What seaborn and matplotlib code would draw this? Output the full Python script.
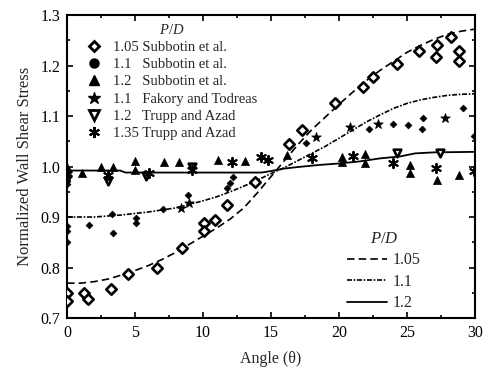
import numpy as np
import pandas as pd
import matplotlib
matplotlib.use("Agg")
import matplotlib.pyplot as plt
from matplotlib.lines import Line2D
import seaborn as sns

# ---------------- data ----------------
# model curves (P/D)
curve_theta = [0, 1, 2, 3, 4, 5, 6, 7, 8, 9, 10, 11, 12, 13, 14, 15, 16, 17, 18, 19,
               20, 21, 22, 23, 24, 25, 26, 27, 28, 29, 30]
curve_105 = [0.769, 0.769, 0.772, 0.777, 0.785, 0.794, 0.804, 0.816, 0.830, 0.846,
             0.862, 0.878, 0.896, 0.918, 0.948, 0.980, 1.012, 1.044, 1.073, 1.098,
             1.123, 1.147, 1.170, 1.190, 1.208, 1.226, 1.240, 1.252, 1.262, 1.268, 1.272]
curve_110 = [0.900, 0.900, 0.900, 0.902, 0.904, 0.907, 0.910, 0.914, 0.918, 0.925,
             0.932, 0.940, 0.950, 0.961, 0.973, 0.986, 0.998, 1.012, 1.026, 1.040,
             1.056, 1.072, 1.088, 1.102, 1.115, 1.125, 1.132, 1.137, 1.141, 1.143, 1.144]
curve_120_theta = [0, 3.9, 4.3, 14.3, 15.0, 16.0, 17.0, 18.5, 20.0, 21.5, 23.0, 24.5,
                   25.6, 27.0, 30.0]
curve_120 = [0.992, 0.992, 0.988, 0.988, 0.991, 0.996, 0.999, 1.003, 1.006, 1.010,
             1.016, 1.020, 1.026, 1.028, 1.029]

# experimental data
sub105_theta = [0, 0, 1.25, 1.55, 3.2, 4.5, 6.6, 8.45, 10.1, 10.1, 10.9, 11.8, 13.8,
                16.3, 17.3, 19.7, 21.8, 22.5, 24.3, 25.9, 27.1, 27.2, 28.2, 28.8, 28.8]
sub105_val = [0.749, 0.733, 0.749, 0.737, 0.757, 0.788, 0.800, 0.838, 0.889, 0.873,
              0.895, 0.923, 0.969, 1.044, 1.072, 1.125, 1.157, 1.177, 1.202, 1.228,
              1.216, 1.240, 1.256, 1.228, 1.208]

sub110_theta = [0, 0, 0, 0, 0, 1.6, 3.3, 3.4, 5.1, 5.1, 7.05, 8.9, 11.8, 12.0, 12.2,
                17.6, 22.2, 24.0, 25.1, 26.1, 26.2, 29.1, 29.9]
sub110_val = [0.965, 0.972, 0.883, 0.873, 0.850, 0.885, 0.905, 0.869, 0.899, 0.889,
              0.916, 0.944, 0.958, 0.968, 0.980, 1.046, 1.075, 1.085, 1.083, 1.075,
              1.097, 1.115, 1.060]

sub120_theta = [0, 1.1, 2.5, 3.4, 5.0, 5.0, 7.1, 8.2, 11.1, 13.1, 16.2, 20.2, 20.2,
                21.9, 21.9, 25.2, 25.2, 27.2, 28.8]
sub120_val = [1.000, 0.988, 1.000, 0.999, 1.010, 0.994, 1.009, 1.008, 1.013, 1.010,
              1.022, 1.018, 1.008, 1.024, 1.006, 1.002, 0.987, 0.973, 0.983]

fak110_theta = [8.4, 9.0, 18.3, 20.8, 22.9, 27.8]
fak110_val = [0.917, 0.928, 1.058, 1.079, 1.085, 1.096]

tru120_theta = [0, 3.0, 5.8, 9.2, 24.3, 27.4]
tru120_val = [0.975, 0.972, 0.981, 1.000, 1.026, 1.026]

tru135_theta = [0, 3.0, 6.0, 9.2, 12.1, 14.3, 14.8, 18.0, 21.0, 24.0, 27.1, 29.9]
tru135_val = [0.986, 0.984, 0.987, 0.993, 1.008, 1.019, 1.012, 1.016, 1.020, 1.006,
              0.998, 0.992]

legend1_labels = ["1.05 Subbotin et al.", "1.1   Subbotin et al.", "1.2   Subbotin et al.",
                  "1.1   Fakory and Todreas", "1.2   Trupp and Azad", "1.35 Trupp and Azad"]
legend2_labels = ["1.05", "1.1", "1.2"]

# ---------------- style ----------------
sns.set_theme(style="ticks")
plt.rcParams["font.family"] = ["Liberation Serif", "DejaVu Serif"]
plt.rcParams["mathtext.fontset"] = "custom"
plt.rcParams["mathtext.rm"] = "Liberation Serif"
plt.rcParams["mathtext.it"] = "Liberation Serif:italic"

fig = plt.figure(figsize=(4.84, 3.78), dpi=100)
ax = fig.add_axes([67 / 484, 1 - 318 / 378, 408 / 484, 303 / 378])

# curves
sns.lineplot(x=curve_theta, y=curve_105, ax=ax, color="black", lw=1.2,
             linestyle=(0, (4.5, 2.5)), estimator=None, sort=False)
sns.lineplot(x=curve_theta, y=curve_110, ax=ax, color="black", lw=1.2,
             linestyle=(0, (3, 1, 1, 1)), estimator=None, sort=False)
sns.lineplot(x=curve_120_theta, y=curve_120, ax=ax, color="black", lw=1.3,
             linestyle="-", estimator=None, sort=False)

# scatter
sns.scatterplot(x=sub105_theta, y=sub105_val, ax=ax, marker="D", s=28,
                facecolor="white", edgecolor="black", linewidth=1.9, zorder=3)
sns.scatterplot(x=sub110_theta, y=sub110_val, ax=ax, marker="D", s=12,
                color="black", edgecolor="black", linewidth=0.5, zorder=3)
sns.scatterplot(x=sub120_theta, y=sub120_val, ax=ax, marker="^", s=34,
                color="black", edgecolor="black", linewidth=0.5, zorder=3)
sns.scatterplot(x=fak110_theta, y=fak110_val, ax=ax, marker="*", s=50,
                color="black", edgecolor="black", linewidth=0.6, zorder=3)
sns.scatterplot(x=tru120_theta, y=tru120_val, ax=ax, marker="v", s=30,
                facecolor="white", edgecolor="black", linewidth=1.9, zorder=3)
sns.scatterplot(x=tru135_theta, y=tru135_val, ax=ax, marker=(6, 2, 0), s=45,
                color="black", linewidth=1.4, zorder=3)

ax.set_xlim(0, 30)
ax.set_ylim(0.7, 1.3)
ax.set_xticks([0, 5, 10, 15, 20, 25, 30])
ax.set_yticks([0.7, 0.8, 0.9, 1.0, 1.1, 1.2, 1.3])
ax.set_yticklabels(["0.7", "0.8", "0.9", "1.0", "1.1", "1.2", "1.3"])
ax.set_xticks(np.arange(0, 30.1, 2.5), minor=True)
ax.set_yticks(np.arange(0.7, 1.301, 0.05), minor=True)
ax.tick_params(which="both", direction="in", top=True, right=True, labelsize=11.5,
               color="black", labelcolor="black", width=1.2)
ax.tick_params(which="major", length=4.5, pad=5)
ax.tick_params(which="minor", length=2.5)
for sp in ax.spines.values():
    sp.set_linewidth(1.5)
    sp.set_color("black")

ax.set_xlabel("Angle (θ)", fontsize=11.5, labelpad=7)
ax.set_ylabel("Normalized Wall Shear Stress", fontsize=12, labelpad=5)

# legend 1 (markers)
mk = dict(color="black", linestyle="none")
h1 = [
    Line2D([], [], marker="D", markersize=5.5, markerfacecolor="white",
           markeredgecolor="black", markeredgewidth=2.0, **mk),
    Line2D([], [], marker="o", markersize=6.5, markerfacecolor="black",
           markeredgecolor="black", **mk),
    Line2D([], [], marker="^", markersize=7, markerfacecolor="black",
           markeredgecolor="black", **mk),
    Line2D([], [], marker="*", markersize=9, markerfacecolor="black",
           markeredgecolor="black", **mk),
    Line2D([], [], marker="v", markersize=6.5, markerfacecolor="white",
           markeredgecolor="black", markeredgewidth=2.0, **mk),
    Line2D([], [], marker=(6, 2, 0), markersize=8, markeredgewidth=1.5,
           markeredgecolor="black", **mk),
]
leg1 = ax.legend(h1, legend1_labels, loc="upper left", bbox_to_anchor=(0.02, 1.012),
                 frameon=False, fontsize=10.5, title="$\\mathit{P/D}$",
                 title_fontsize=10.5, handlelength=1.0, handletextpad=0.8,
                 labelspacing=0.27, borderpad=0.3)
leg1._legend_box.align = "center"
ax.add_artist(leg1)

h2 = [
    Line2D([], [], color="black", lw=1.2, linestyle=(0, (4.5, 2.5))),
    Line2D([], [], color="black", lw=1.2, linestyle=(0, (3, 1, 1, 1))),
    Line2D([], [], color="black", lw=1.3, linestyle="-"),
]
leg2 = ax.legend(h2, legend2_labels, loc="lower right", bbox_to_anchor=(0.895, -0.015),
                 frameon=False, fontsize=11.5, title="$\\mathit{P/D}$",
                 title_fontsize=12, handlelength=2.5, handletextpad=0.4,
                 labelspacing=0.35, borderpad=0.2)
leg2._legend_box.align = "center"

fig.savefig("out.png", dpi=100)
